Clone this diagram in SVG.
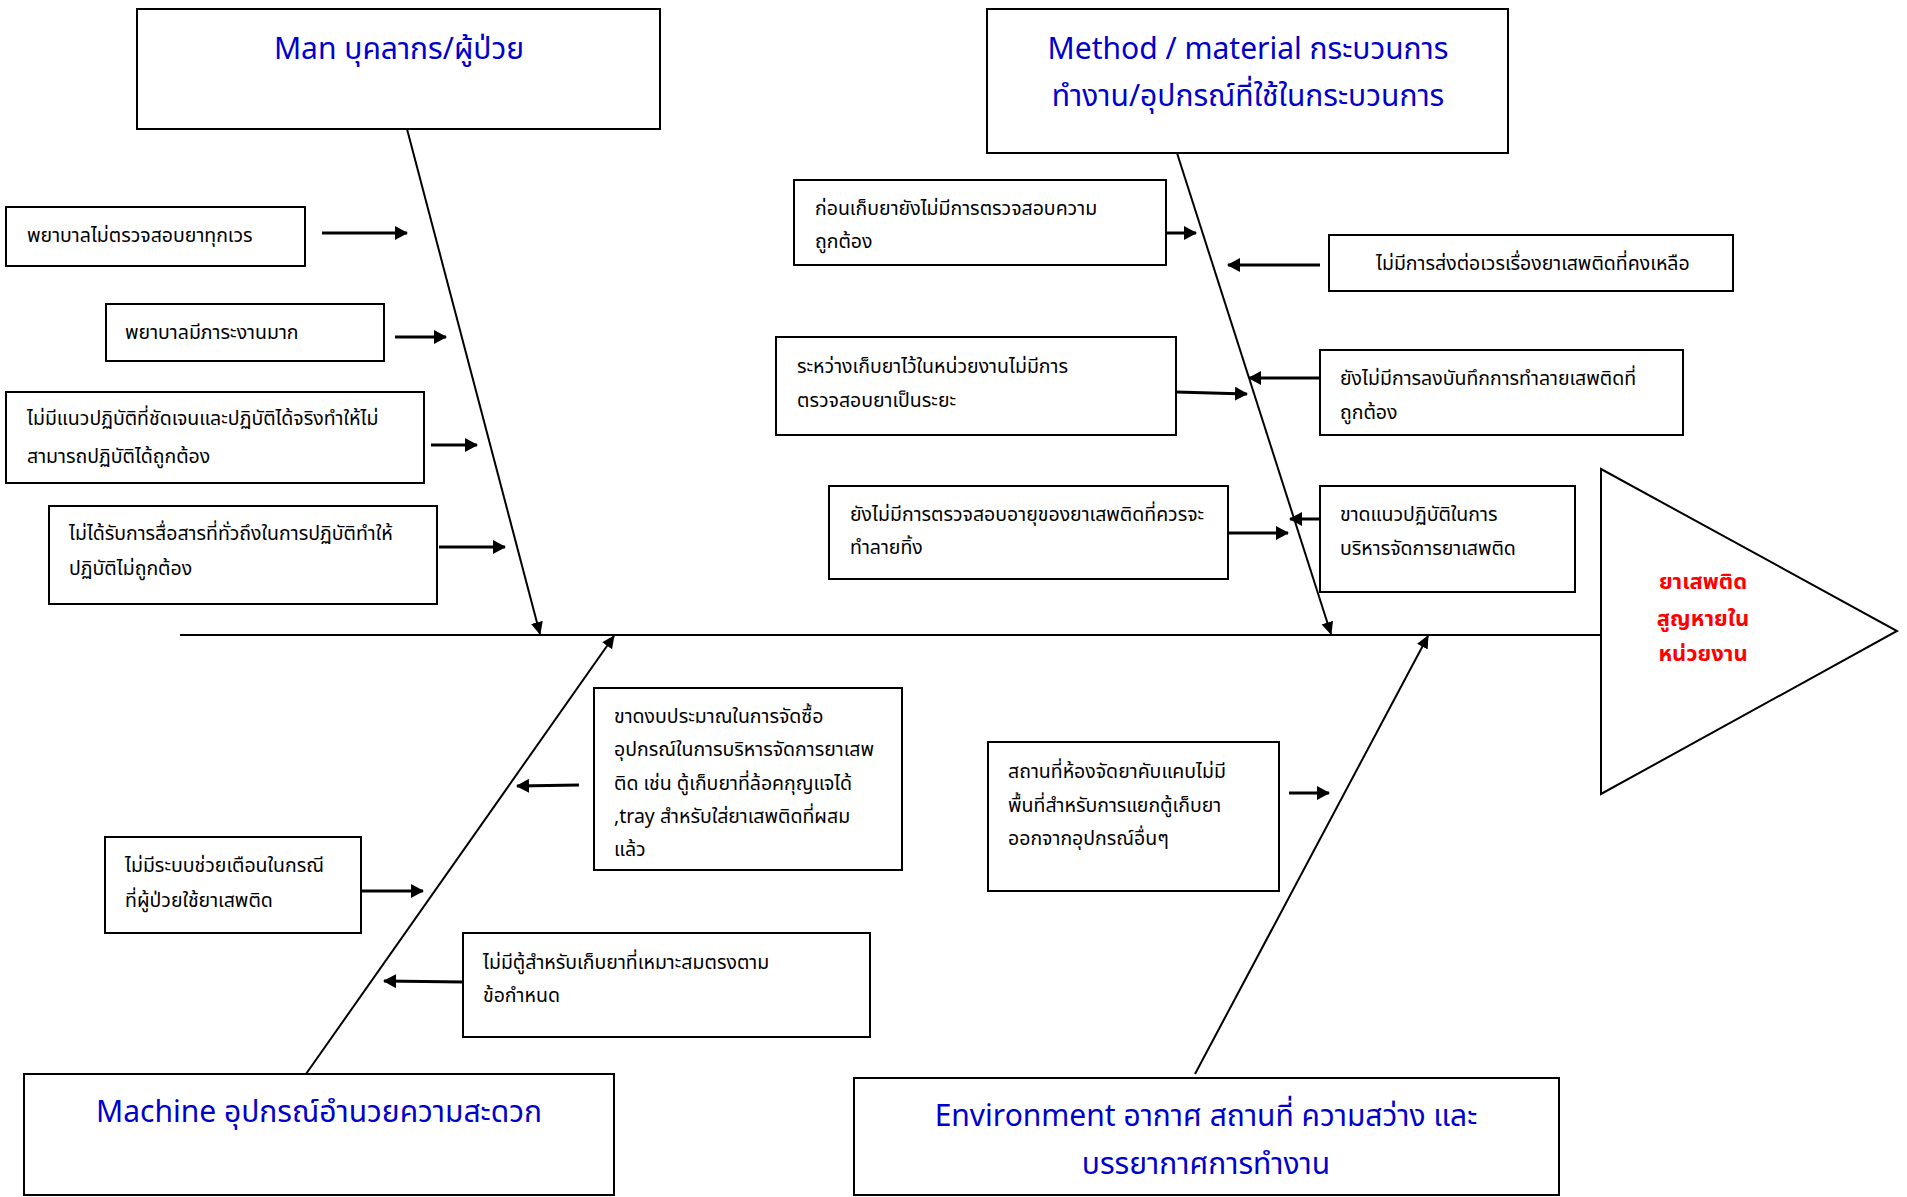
<svg xmlns="http://www.w3.org/2000/svg" width="1907" height="1197" viewBox="0 0 1907 1197">
<style>
.box{fill:#fff;stroke:#000;stroke-width:2}
.t{font-family:"Noto Sans Thai","Noto Sans","DejaVu Sans",sans-serif;font-size:19.5px;fill:#000}
.h{font-family:"Noto Sans Thai","Noto Sans","DejaVu Sans",sans-serif;font-size:30px;fill:#0000cc;text-anchor:middle}
.r{font-family:"Noto Sans Thai","Noto Sans","DejaVu Sans",sans-serif;font-size:22px;font-weight:bold;fill:#ff0000;text-anchor:middle}
.bone{stroke:#000;stroke-width:2;fill:none}
.ar{stroke:#000;stroke-width:3;fill:none}
</style>
<defs>
<marker id="ah" markerWidth="14" markerHeight="14" refX="12" refY="7" orient="auto" markerUnits="userSpaceOnUse">
<path d="M0,0 L13,7 L0,14 Z" fill="#000"/>
</marker>
<marker id="ab" markerWidth="14" markerHeight="14" refX="12" refY="7" orient="auto" markerUnits="userSpaceOnUse">
<path d="M0,1 L13,7 L0,13 Z" fill="#000"/>
</marker>
</defs>
<rect width="1907" height="1197" fill="#fff"/>

<g id="effect">
<polygon points="1601,469 1897,631 1601,794" fill="#fff" stroke="#000" stroke-width="2"/>
<text class="r" x="1703" y="589">ยาเสพติด</text>
<text class="r" x="1703" y="626">สูญหายใน</text>
<text class="r" x="1703" y="661">หน่วยงาน</text>
</g>

<g id="connectors">
<line class="bone" x1="180" y1="635" x2="1601" y2="635"/>
<line class="bone" x1="407" y1="129" x2="540" y2="634" marker-end="url(#ab)"/>
<line class="bone" x1="1177" y1="153" x2="1331" y2="634" marker-end="url(#ab)"/>
<line class="bone" x1="306" y1="1074" x2="614" y2="636" marker-end="url(#ab)"/>
<line class="bone" x1="1195" y1="1074" x2="1428" y2="636" marker-end="url(#ab)"/>
<line class="ar" x1="322" y1="233" x2="407" y2="233" marker-end="url(#ah)"/>
<line class="ar" x1="395" y1="337" x2="446" y2="337" marker-end="url(#ah)"/>
<line class="ar" x1="431" y1="445" x2="477" y2="445" marker-end="url(#ah)"/>
<line class="ar" x1="439" y1="547" x2="505" y2="547" marker-end="url(#ah)"/>
<line class="ar" x1="1166" y1="233" x2="1196" y2="233" marker-end="url(#ah)"/>
<line class="ar" x1="1320" y1="265" x2="1228" y2="265" marker-end="url(#ah)"/>
<line class="ar" x1="1176" y1="392" x2="1247" y2="394" marker-end="url(#ah)"/>
<line class="ar" x1="1320" y1="378" x2="1249" y2="378" marker-end="url(#ah)"/>
<line class="ar" x1="1228" y1="533" x2="1288" y2="533" marker-end="url(#ah)"/>
<line class="ar" x1="1320" y1="519" x2="1290" y2="519" marker-end="url(#ah)"/>
<line class="ar" x1="579" y1="785" x2="517" y2="786" marker-end="url(#ah)"/>
<line class="ar" x1="361" y1="891" x2="423" y2="891" marker-end="url(#ah)"/>
<line class="ar" x1="463" y1="982" x2="384" y2="981" marker-end="url(#ah)"/>
<line class="ar" x1="1289" y1="793" x2="1329" y2="793" marker-end="url(#ah)"/>
</g>

<g id="man">
<rect class="box" x="137" y="9" width="523" height="120"/>
<text class="h" x="399" y="59">Man บุคลากร/ผู้ป่วย</text>
</g>
<g id="method">
<rect class="box" x="987" y="9" width="521" height="144"/>
<text class="h" x="1248" y="59">Method / material กระบวนการ</text>
<text class="h" x="1248" y="106">ทำงาน/อุปกรณ์ที่ใช้ในกระบวนการ</text>
</g>
<g id="machine">
<rect class="box" x="24" y="1074" width="590" height="121"/>
<text class="h" x="319" y="1122">Machine อุปกรณ์อำนวยความสะดวก</text>
</g>
<g id="environment">
<rect class="box" x="854" y="1078" width="705" height="117"/>
<text class="h" x="1206" y="1126">Environment อากาศ สถานที่ ความสว่าง และ</text>
<text class="h" x="1206" y="1174">บรรยากาศการทำงาน</text>
</g>

<g id="man1">
<rect class="box" x="6" y="207" width="299" height="59"/>
<text class="t" x="27" y="242">พยาบาลไม่ตรวจสอบยาทุกเวร</text>
</g>
<g id="man2">
<rect class="box" x="106" y="304" width="278" height="57"/>
<text class="t" x="125" y="339">พยาบาลมีภาระงานมาก</text>
</g>
<g id="man3">
<rect class="box" x="6" y="392" width="418" height="91"/>
<text class="t" x="27" y="425">ไม่มีแนวปฏิบัติที่ชัดเจนและปฏิบัติได้จริงทำให้ไม่</text>
<text class="t" x="27" y="463">สามารถปฏิบัติได้ถูกต้อง</text>
</g>
<g id="man4">
<rect class="box" x="49" y="506" width="388" height="98"/>
<text class="t" x="69" y="540">ไม่ได้รับการสื่อสารที่ทั่วถึงในการปฏิบัติทำให้</text>
<text class="t" x="69" y="575">ปฏิบัติไม่ถูกต้อง</text>
</g>

<g id="method1">
<rect class="box" x="794" y="180" width="372" height="85"/>
<text class="t" x="815" y="215">ก่อนเก็บยายังไม่มีการตรวจสอบความ</text>
<text class="t" x="815" y="248">ถูกต้อง</text>
</g>
<g id="method2">
<rect class="box" x="1329" y="235" width="404" height="56"/>
<text class="t" x="1376" y="270">ไม่มีการส่งต่อเวรเรื่องยาเสพติดที่คงเหลือ</text>
</g>
<g id="method3">
<rect class="box" x="776" y="337" width="400" height="98"/>
<text class="t" x="797" y="373">ระหว่างเก็บยาไว้ในหน่วยงานไม่มีการ</text>
<text class="t" x="797" y="407">ตรวจสอบยาเป็นระยะ</text>
</g>
<g id="method4">
<rect class="box" x="1320" y="350" width="363" height="85"/>
<text class="t" x="1340" y="385">ยังไม่มีการลงบันทึกการทำลายเสพติดที่</text>
<text class="t" x="1340" y="419">ถูกต้อง</text>
</g>
<g id="method5">
<rect class="box" x="829" y="486" width="399" height="93"/>
<text class="t" x="850" y="521">ยังไม่มีการตรวจสอบอายุของยาเสพติดที่ควรจะ</text>
<text class="t" x="850" y="554">ทำลายทิ้ง</text>
</g>
<g id="method6">
<rect class="box" x="1320" y="486" width="255" height="106"/>
<text class="t" x="1340" y="521">ขาดแนวปฏิบัติในการ</text>
<text class="t" x="1340" y="555">บริหารจัดการยาเสพติด</text>
</g>

<g id="machine1">
<rect class="box" x="594" y="688" width="308" height="182"/>
<text class="t" x="614" y="723">ขาดงบประมาณในการจัดซื้อ</text>
<text class="t" x="614" y="756">อุปกรณ์ในการบริหารจัดการยาเสพ</text>
<text class="t" x="614" y="790">ติด เช่น ตู้เก็บยาที่ล้อคกุญแจได้</text>
<text class="t" x="614" y="823">,tray สำหรับใส่ยาเสพติดที่ผสม</text>
<text class="t" x="614" y="856">แล้ว</text>
</g>
<g id="machine2">
<rect class="box" x="105" y="837" width="256" height="96"/>
<text class="t" x="125" y="872">ไม่มีระบบช่วยเตือนในกรณี</text>
<text class="t" x="125" y="907">ที่ผู้ป่วยใช้ยาเสพติด</text>
</g>
<g id="machine3">
<rect class="box" x="463" y="933" width="407" height="104"/>
<text class="t" x="483" y="969">ไม่มีตู้สำหรับเก็บยาที่เหมาะสมตรงตาม</text>
<text class="t" x="483" y="1002">ข้อกำหนด</text>
</g>

<g id="env1">
<rect class="box" x="988" y="742" width="291" height="149"/>
<text class="t" x="1008" y="778">สถานที่ห้องจัดยาคับแคบไม่มี</text>
<text class="t" x="1008" y="812">พื้นที่สำหรับการแยกตู้เก็บยา</text>
<text class="t" x="1008" y="845">ออกจากอุปกรณ์อื่นๆ</text>
</g>
</svg>
